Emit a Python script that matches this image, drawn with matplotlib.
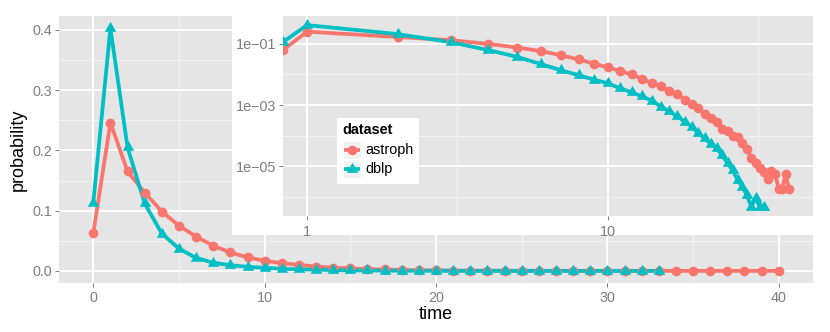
import numpy as np
import matplotlib
matplotlib.use('Agg')
import matplotlib.pyplot as plt
from matplotlib.path import Path
from matplotlib.patches import Rectangle
from matplotlib.lines import Line2D
from matplotlib.ticker import FixedLocator, NullFormatter, FixedFormatter
import matplotlib.transforms as mtransforms

plt.rcParams['font.family'] = ['Liberation Sans', 'DejaVu Sans']

# ---------------- data ----------------
series_names = ['astroph', 'dblp']
legend_title = 'dataset'

astroph_time = list(range(0, 41))
astroph_prob = [0.0624, 0.246, 0.165, 0.130, 0.0985, 0.075, 0.057, 0.0418, 0.0305, 0.0224,
                0.0168, 0.0128, 0.0099, 0.0072, 0.0052, 0.0041, 0.0028, 0.0023, 0.0015, 0.00105,
                0.00080, 0.00053, 0.00039, 0.00029, 0.000168, 0.000148, 0.000100, 9.0e-5, 6.0e-5, 3.7e-5,
                1.85e-5, 1.25e-5, 9.2e-6, 6.4e-6, 3.8e-6, 7.0e-6, 5.6e-6, 1.9e-6, 1.9e-6, 5.5e-6,
                1.9e-6]

dblp_time = list(range(0, 34))
dblp_prob = [0.113, 0.403, 0.205, 0.112, 0.062, 0.037, 0.0215, 0.0135, 0.0094, 0.0067,
             0.0051, 0.0035, 0.0026, 0.0019, 0.0014, 0.00089, 0.00062, 0.00043, 0.00029, 0.00020,
             0.00012, 8.3e-5, 5.3e-5, 3.9e-5, 2.3e-5, 1.25e-5, 7.6e-6, 3.6e-6, 2.2e-6, 1.15e-6,
             4.8e-7, 9.5e-7, 4.8e-7, 4.8e-7]

main_xticks = [0, 10, 20, 30, 40]
main_yticks = [0.0, 0.1, 0.2, 0.3, 0.4]
main_ytick_labels = ['0.0', '0.1', '0.2', '0.3', '0.4']
inset_xticks = [1, 10]
inset_xtick_labels = ['1', '10']
inset_yticks = [1e-1, 1e-3, 1e-5]
inset_ytick_labels = ['1e\u221201', '1e\u221203', '1e\u221205']

colors = ['#F8766D', '#00BFC4']
times = [np.array(astroph_time, float), np.array(dblp_time, float)]
probs = [np.array(astroph_prob, float), np.array(dblp_prob, float)]

# ---------------- figure ----------------
W, H = 830, 332
fig = plt.figure(figsize=(W / 100, H / 100), dpi=100)
fig.patch.set_facecolor('white')
PX = mtransforms.Affine2D().scale(1.0 / W, -1.0 / H).translate(0, 1) + fig.transFigure


def rect(l, t, r, b):
    return [l / W, 1 - b / H, (r - l) / W, (b - t) / H]


PT = 72.0 / 100  # points per pixel
TICK_GREY = '#7F7F7F'
tri_marker = Path([(0, 1.555), (1.347, -0.778), (-1.347, -0.778), (0, 1.555)],
                  [Path.MOVETO, Path.LINETO, Path.LINETO, Path.CLOSEPOLY])
markers = ['o', tri_marker]
msizes = [7.0, 9.6]
LW = 2.7


def style_axes(ax):
    ax.set_facecolor('#E5E5E5')
    for s in ax.spines.values():
        s.set_visible(False)
    ax.grid(True, which='major', color='white', linewidth=1.9 * PT)
    ax.grid(True, which='minor', color='#F2F2F2', linewidth=1.0 * PT)
    ax.set_axisbelow(True)
    ax.tick_params(which='major', length=4 * PT, width=1.0 * PT, color=TICK_GREY,
                   labelcolor=TICK_GREY, labelsize=10.4)
    ax.tick_params(which='minor', length=0)


def draw_series(ax, xs_list):
    for xs, ys, c in zip(xs_list, probs, colors):
        ax.plot(xs, ys, color=c, linewidth=LW, zorder=3, solid_capstyle='butt')
    for xs, ys, c, m, ms in zip(xs_list, probs, colors, markers, msizes):
        ax.plot(xs, ys, linestyle='none', marker=m, markersize=ms, color=c,
                markeredgewidth=0, zorder=4)


# ---------------- main panel ----------------
ax = fig.add_axes(rect(59, 16, 813, 283))
style_axes(ax)
draw_series(ax, times)
xmin = min(t.min() for t in times); xmax = max(t.max() for t in times)
ymin = min(p.min() for p in probs); ymax = max(p.max() for p in probs)
ax.set_xlim(xmin - 0.05 * (xmax - xmin), xmax + 0.05 * (xmax - xmin))
ax.set_ylim(ymin - 0.05 * (ymax - ymin), ymax + 0.05 * (ymax - ymin))
ax.xaxis.set_major_locator(FixedLocator(main_xticks))
ax.xaxis.set_minor_locator(FixedLocator([5, 15, 25, 35]))
ax.yaxis.set_major_locator(FixedLocator(main_yticks))
ax.yaxis.set_major_formatter(FixedFormatter(main_ytick_labels))
ax.yaxis.set_minor_locator(FixedLocator([0.05, 0.15, 0.25, 0.35]))
ax.tick_params(axis='x', which='major', pad=3.5 * PT)
ax.tick_params(axis='y', which='major', pad=2.5 * PT)
ax.set_xlabel('time', fontsize=13, color='black', labelpad=1)
ax.set_ylabel('probability', fontsize=13, color='black', labelpad=4)

# ---------------- inset ----------------
fig.add_artist(Rectangle((232, 0), 830 - 232, 235, transform=PX, facecolor='white',
                         edgecolor='none', zorder=1))
ax2 = fig.add_axes(rect(283, 16, 813, 216), zorder=2)
ax2.set_xscale('log')
ax2.set_yscale('log')
style_axes(ax2)
pos_t = np.concatenate([t[t > 0] for t in times])
lx0, lx1 = np.log10(pos_t.min()), np.log10(pos_t.max())
ex = 0.05 * (lx1 - lx0)
x_lo, x_hi = 10 ** (lx0 - ex), 10 ** (lx1 + ex)
ly0 = np.log10(min(p.min() for p in probs)); ly1 = np.log10(max(p.max() for p in probs))
ey = 0.05 * (ly1 - ly0)
ax2.set_xlim(x_lo, x_hi)
ax2.set_ylim(10 ** (ly0 - ey), 10 ** (ly1 + ey))
# time 0 (log = -Inf) is drawn on the panel edge, as ggplot does
inset_x = [np.where(t > 0, t, x_lo) for t in times]
draw_series(ax2, inset_x)
for a in (ax2.xaxis, ax2.yaxis):
    a.set_minor_formatter(NullFormatter())
ax2.xaxis.set_major_locator(FixedLocator(inset_xticks))
ax2.xaxis.set_major_formatter(FixedFormatter(inset_xtick_labels))
ax2.xaxis.set_minor_locator(FixedLocator([10 ** 0.5, 10 ** 1.5]))
ax2.yaxis.set_major_locator(FixedLocator(inset_yticks))
ax2.yaxis.set_major_formatter(FixedFormatter(inset_ytick_labels))
ax2.yaxis.set_minor_locator(FixedLocator([1e-2, 1e-4, 1e-6]))
ax2.tick_params(axis='x', which='major', pad=4.5 * PT)
ax2.tick_params(axis='y', which='major', pad=3.0 * PT)

# ---------------- legend (manual, ggplot style) ----------------
fig.add_artist(Rectangle((337, 118), 419 - 337, 184 - 118, transform=PX,
                         facecolor='white', edgecolor='none', zorder=5))
fig.text(342, 130, legend_title, transform=PX, fontsize=10.4, fontweight='bold',
         ha='left', va='center', zorder=6)
key_rows = [150.0, 169.0]
for name, c, m, ms, ky in zip(series_names, colors, markers, msizes, key_rows):
    fig.add_artist(Rectangle((343, ky - 9.3), 18, 18.6, transform=PX, facecolor='#F2F2F2',
                             edgecolor='white', linewidth=0.8, zorder=6))
    fig.add_artist(Line2D([344, 360], [ky, ky], transform=PX, color=c, linewidth=LW, zorder=7,
                          solid_capstyle='butt'))
    fig.add_artist(Line2D([352], [ky], transform=PX, color=c, marker=m, markersize=ms,
                          markeredgewidth=0, linestyle='none', zorder=8))
    fig.text(365, ky, name, transform=PX, fontsize=10.4, ha='left', va='center', zorder=8)

fig.savefig('out.png', dpi=100, facecolor='white')
